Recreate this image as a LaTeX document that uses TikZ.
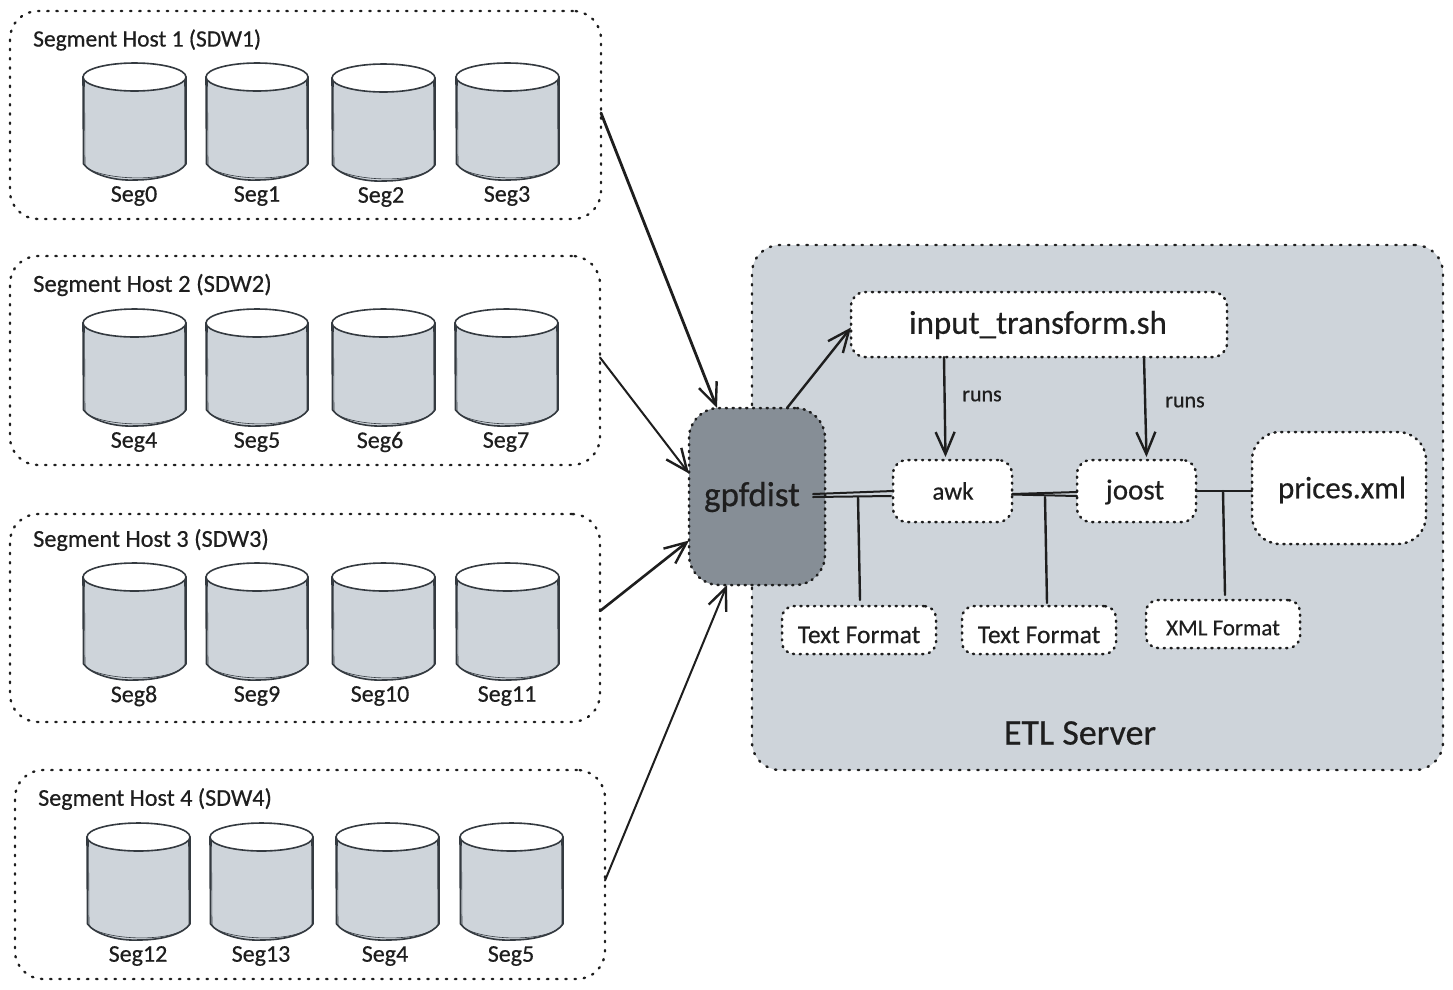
\documentclass[tikz,border=0pt]{standalone}
\usepackage{fontspec}
\setmainfont[FakeBold=0.5]{Carlito}
\usetikzlibrary{arrows.meta,calc,shapes.geometric}
\definecolor{ink}{HTML}{1E1E1E}
\definecolor{panel}{HTML}{CED4DA}
\definecolor{darkbox}{HTML}{868E96}
\definecolor{cylline}{HTML}{343A40}
\tikzset{
  x=1pt,y=-1pt,
  dotbox/.style={draw=ink,line width=2.5pt,line cap=round,dash pattern=on 1.2pt off 5.6pt,inner sep=0pt,outer sep=0pt,anchor=north west,align=center},
  widedots/.style={line width=2.4pt,dash pattern=on 1.4pt off 7.8pt},
  hostbox/.style={dotbox,widedots,rounded corners=28pt,fill=white},
  whitebox/.style={dotbox,fill=white,rounded corners=14pt},
  txt/.style={text=ink,inner sep=0pt},
  hosttitle/.style={txt,anchor=west,font=\fontsize{23.5}{28}\selectfont},
  seglabel/.style={txt,font=\fontsize{24}{28}\selectfont},
  arr/.style={draw=ink,line width=2.4pt,line cap=round,-{Straight Barb[length=22pt,width=19pt,line width=2.4pt]}},
  link/.style={draw=ink,line width=2.4pt,line cap=round},
  cylbody/.style={fill=panel,draw=cylline,line width=1.6pt,line join=round},
  cyltop/.style={fill=white,draw=cylline,line width=1.6pt},
  cylsketch/.style={draw=cylline,line width=.6pt},
}
\newcommand{\segcyl}[7]{% name, x, y, width, label name, label x, text
  \draw[cylbody] (#2,#3+15) -- (#2+.5,#3+102) .. controls (#2+8,#3+112) and (#2+30,#3+119) .. (#2+#4/2,#3+118)
    .. controls (#2+#4-25,#3+118) and (#2+#4-6,#3+111) .. (#2+#4,#3+102) -- (#2+#4,#3+15) -- cycle;
  \draw[cylsketch] (#2+1.5,#3+16) -- (#2+2,#3+104) .. controls (#2+15,#3+118) and (#2+#4-15,#3+122) .. (#2+#4-1,#3+103) -- (#2+#4-1.5,#3+16);
  \node[cyltop,ellipse,minimum width=#4 pt,minimum height=28pt,inner sep=0pt,outer sep=0pt] (#1) at (#2+#4/2,#3+15) {};
  \node[seglabel] (#5) at (#6,#3+134) {#7};
}
\begin{document}
\begin{tikzpicture}
\useasboundingbox (0,0) rectangle (1453,989);
\fill[white] (0,0) rectangle (1453,989);

% hosts
\node[hostbox,minimum width=591pt,minimum height=208pt] (h1) at (10,11) {};
\node[hostbox,minimum width=590pt,minimum height=209pt] (h2) at (10,256) {};
\node[hostbox,minimum width=590pt,minimum height=208pt] (h3) at (10,514) {};
\node[hostbox,minimum width=590pt,minimum height=209pt] (h4) at (15,770) {};

\node[hosttitle] (t1) at (33,40) {Segment Host 1 (SDW1)};
\node[hosttitle,font=\fontsize{24.6}{29}\selectfont] (t2) at (33,285) {Segment Host 2 (SDW2)};
\node[hosttitle,font=\fontsize{24.3}{29}\selectfont] (t3) at (33,540) {Segment Host 3 (SDW3)};
\node[hosttitle,font=\fontsize{24.1}{29}\selectfont] (t4) at (38,799) {Segment Host 4 (SDW4)};

\segcyl{c0}{83}{62}{103}{l0}{134}{Seg0}
\segcyl{c1}{206}{62}{102}{l1}{257}{Seg1}
\segcyl{c2}{332}{63}{103}{l2}{381}{Seg2}
\segcyl{c3}{456}{62}{103}{l3}{507}{Seg3}

\segcyl{c4}{83}{308}{103}{l4}{134}{Seg4}
\segcyl{c5}{206}{308}{102}{l5}{257}{Seg5}
\segcyl{c6}{332}{308}{103}{l6}{380}{Seg6}
\segcyl{c7}{455}{308}{103}{l7}{506}{Seg7}

\segcyl{c8}{83}{562}{103}{l8}{134}{Seg8}
\segcyl{c9}{206}{562}{102}{l9}{257}{Seg9}
\segcyl{c10}{332}{562}{103}{l10}{380}{Seg10}
\segcyl{c11}{456}{562}{103}{l11}{507}{Seg11}

\segcyl{c12}{87}{822}{103}{l12}{138}{Seg12}
\segcyl{c13}{210}{822}{103}{l13}{261}{Seg13}
\segcyl{c14}{336}{822}{103}{l14}{385}{Seg4}
\segcyl{c15}{460}{822}{103}{l15}{511}{Seg5}

% ETL server
\node[dotbox,widedots,fill=panel,rounded corners=28pt,minimum width=691pt,minimum height=525pt] (etl) at (752,245) {};
\node[txt,font=\fontsize{36}{42}\selectfont] (etllabel) at (1080,733) {ETL Server};

% boxes
\node[dotbox,fill=darkbox,rounded corners=30pt,minimum width=136pt,minimum height=177pt] (gp) at (689,408) {};
\node[txt,font=\fontsize{35}{42}\selectfont] (gptext) at (752,497) {gpfdist};

\node[whitebox,minimum width=376pt,minimum height=65pt] (input) at (851,292) {};
\node[txt,font=\fontsize{33}{39}\selectfont] (inputtext) at (1038,325) {input\_transform.sh};

\node[whitebox,minimum width=119pt,minimum height=62pt] (awk) at (893,460) {};
\node[txt,font=\fontsize{25}{30}\selectfont] (awktext) at (953,491) {awk};
\node[whitebox,minimum width=119pt,minimum height=62pt] (joost) at (1077,460) {};
\node[txt,font=\fontsize{29}{34}\selectfont] (joosttext) at (1135,492) {joost};
\node[whitebox,rounded corners=28pt,minimum width=174pt,minimum height=112pt] (prices) at (1252,432) {};
\node[txt,font=\fontsize{31}{37}\selectfont] (pricestext) at (1342,490) {prices.xml};

\node[whitebox,rounded corners=12pt,minimum width=154pt,minimum height=48pt] (tf1) at (782,606) {};
\node[txt,font=\fontsize{25.5}{30}\selectfont] (tf1text) at (859,635) {Text Format};
\node[whitebox,rounded corners=12pt,minimum width=154pt,minimum height=48pt] (tf2) at (962,606) {};
\node[txt,font=\fontsize{25.5}{30}\selectfont] (tf2text) at (1039,635) {Text Format};
\node[whitebox,rounded corners=12pt,minimum width=154pt,minimum height=48pt] (xf) at (1146,600) {};
\node[txt,font=\fontsize{23}{27}\selectfont] (xftext) at (1223,628) {XML Format};

\node[txt,font=\fontsize{22}{26}\selectfont] (r1) at (982,396) {runs};
\node[txt,font=\fontsize{22}{26}\selectfont] (r2) at (1185,402) {runs};

% arrows into gpfdist
\draw[arr,line width=2.8pt] ([yshift=2pt]h1.east) -- ([xshift=-40pt]gp.north);
\draw[arr,line width=2pt] ([yshift=3pt]h2.east) -- ([yshift=23pt]gp.west);
\draw[arr,line width=2.6pt] ([yshift=7pt]h3.east) -- ([yshift=-44pt]gp.west);
\draw[arr,line width=2pt] ([yshift=-6pt]h4.east) -- ([xshift=-30pt]gp.south);
\draw[arr] ([xshift=30pt]gp.north) -- ([yshift=-3pt]input.west);
\draw[arr] ([xshift=-95pt]input.south) -- ([xshift=-7pt,yshift=3pt]awk.north);
\draw[arr] ([xshift=105pt]input.south) -- ([xshift=10pt,yshift=3pt]joost.north);

% links
\draw[link,line width=2pt] ([xshift=-12pt,yshift=2.5pt]gp.east) -- (awk.west);
\draw[link,line width=2pt] ([xshift=-12pt,yshift=-.5pt]gp.east) -- ([yshift=-5pt,xshift=-2pt]awk.west);
\draw[link] ([xshift=33pt,yshift=-.5pt]gp.east) -- ([xshift=1pt,yshift=6pt]tf1.north);
\draw[link,line width=2pt] ([yshift=-3pt]awk.east) -- ([yshift=-1pt]joost.west);
\draw[link,line width=2pt] ([yshift=-3.5pt]awk.east) -- ([yshift=-5pt]joost.west);
\draw[link] ([xshift=33pt,yshift=-6pt]awk.east) -- ([xshift=8pt,yshift=3pt]tf2.north);
\draw[link] (joost.east) -- (prices.west |- joost.east);
\draw[link] ([xshift=27pt]joost.east) -- ([xshift=2pt,yshift=5pt]xf.north);
\end{tikzpicture}
\end{document}
